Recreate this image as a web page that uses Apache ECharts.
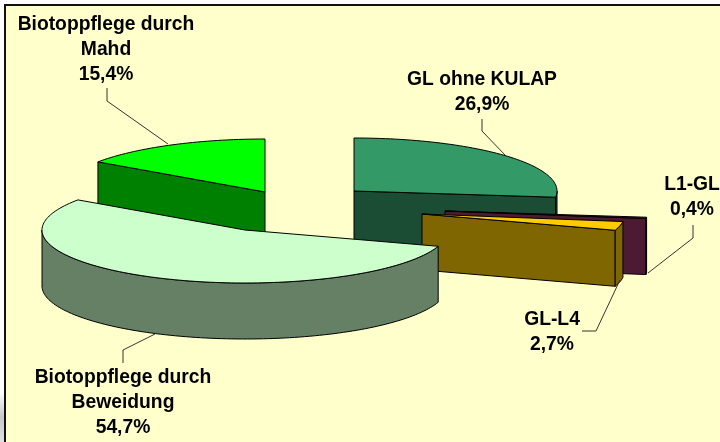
<!DOCTYPE html>
<html><head><meta charset="utf-8">
<style>html,body{margin:0;padding:0;background:#fff}#c{width:720px;height:442px}</style>
<script src="https://cdn.jsdelivr.net/npm/echarts@6/dist/echarts.min.js"></script>
</head><body><div id="c"></div>
<script>
// Data, in pie order (clockwise from 12 o'clock)
const categories = ['GL ohne KULAP', 'L1-GL', 'GL-L4', 'Biotoppflege durch Beweidung', 'Biotoppflege durch Mahd'];
const shares = [26.9, 0.4, 2.7, 54.7, 15.4];
const labelLines = [['GL ohne KULAP'], ['L1-GL'], ['GL-L4'], ['Biotoppflege durch', 'Beweidung'], ['Biotoppflege durch', 'Mahd']];
const topColors = ['#339966', '#4d1a33', '#ffcc00', '#ccffcc', '#00ff00'];
const sideColors = ['#1a4d33', '#4d1a33', '#806600', '#668066', '#008000'];

// Layout
const RX = 203, RY = 53, DEPTH = 56;
const apexes = [[354, 191], [445, 211], [422, 214], [245, 230], [265, 192]];
const drawOrder = [0, 4, 1, 2, 3];
const labelAnchors = [[482, 80], [692, 185], [552, 320], [123, 378], [106, 25]];
const LINE_H = 25;
const leaders = [
  [[482, 119], [482, 131], [505, 155]],
  [[693, 225], [693, 238], [648, 273]],
  [[582, 331], [596, 331], [620, 280]],
  [[123, 363], [123, 350], [155, 334]],
  [[107, 88], [107, 101], [168, 144]]
];

const total = shares.reduce((a, b) => a + b, 0);
const startDeg = [];
shares.reduce((acc, v, i) => { startDeg[i] = acc; return acc + v / total * 360; }, 0);

const rad = d => d * Math.PI / 180;
const pt = (c, d, dz) => [c[0] + RX * Math.sin(rad(d)), c[1] - RY * Math.cos(rad(d)) + (dz || 0)];
function arc(c, a, b, dz) {
  const n = Math.max(2, Math.ceil(Math.abs(b - a) / 1.5));
  const out = [];
  for (let i = 0; i <= n; i++) out.push(pt(c, a + (b - a) * i / n, dz));
  return out;
}
function poly(points, fill) {
  return { type: 'polygon', shape: { points }, style: { fill, stroke: '#000', lineWidth: 1, lineJoin: 'round' } };
}

function renderSlice(params, api) {
  const i = api.value(0);
  const a = startDeg[i], b = a + api.value(1) / total * 360;
  const c = apexes[i], kids = [];
  const cut = d => poly([c, pt(c, d), pt(c, d, DEPTH), [c[0], c[1] + DEPTH]], sideColors[i]);
  if (Math.sin(rad(a)) < -1e-6) kids.push(cut(a));
  if (Math.sin(rad(b)) > 1e-6) kids.push(cut(b));
  const wa = Math.max(a, 90), wb = Math.min(b, 270);
  if (wb > wa) {
    kids.push(poly(arc(c, wa, wb).concat(arc(c, wb, wa, DEPTH)), sideColors[i]));
  }
  kids.push(poly([c].concat(arc(c, a, b)), topColors[i]));
  return { type: 'group', children: kids };
}

function renderLabel(params, api) {
  const i = api.value(0);
  const kids = [{
    type: 'polyline', shape: { points: leaders[i] },
    style: { fill: 'none', stroke: '#333', lineWidth: 1 }
  }];
  const lines = labelLines[i].concat([api.value(1).toFixed(1).replace('.', ',') + '%']);
  lines.forEach((t, k) => kids.push({
    type: 'text',
    style: {
      text: t, x: labelAnchors[i][0], y: labelAnchors[i][1] + k * LINE_H,
      align: 'center', verticalAlign: 'middle',
      font: 'bold 19.3px "Liberation Sans", Arial, sans-serif', fill: '#000'
    }
  }));
  return { type: 'group', children: kids };
}

const chart = echarts.init(document.getElementById('c'), null, { renderer: 'canvas', width: 720, height: 442 });
chart.setOption({
  animation: false,
  backgroundColor: '#ffffff',
  graphic: [
    { type: 'rect', z: 0, shape: { x: 0, y: 392, width: 5, height: 50 },
      style: { fill: new echarts.graphic.LinearGradient(0, 0, 0, 1, [{ offset: 0, color: '#ffffff' }, { offset: 0.5, color: '#c8c8c8' }, { offset: 1, color: '#e0e0e0' }]) } },
    { type: 'rect', z: 0, shape: { x: 5, y: 5, width: 730, height: 450 },
      style: { fill: '#ffffcc', stroke: '#111', lineWidth: 2 } }
  ],
  series: [
    { type: 'custom', coordinateSystem: 'none', z: 2, silent: true, renderItem: renderSlice,
      data: drawOrder.map(i => [i, shares[i]]) },
    { type: 'custom', coordinateSystem: 'none', z: 3, silent: true, renderItem: renderLabel,
      data: categories.map((n, i) => ({ name: n, value: [i, shares[i]] })) }
  ]
});
</script></body></html>
